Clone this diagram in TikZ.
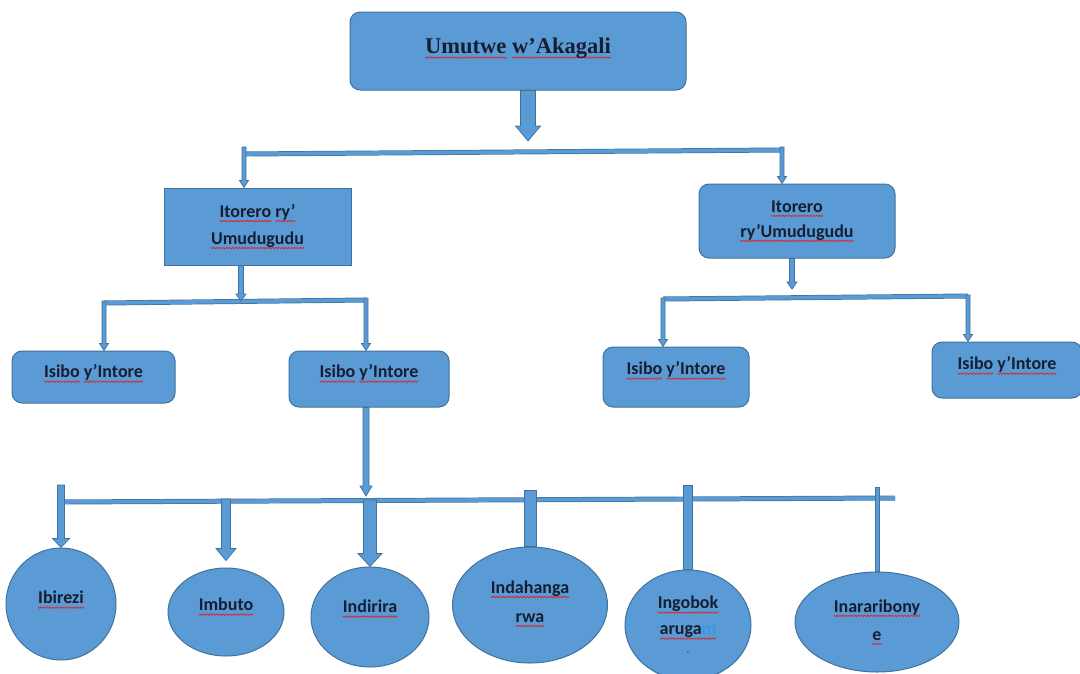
\documentclass[tikz,border=0pt]{standalone}
\usepackage{fontspec}
\usetikzlibrary{shapes.geometric,calc}
\newfontfamily\carlito{Carlito}
\newfontfamily\libserif{Liberation Serif}
\definecolor{fillc}{RGB}{91,155,213}
\definecolor{edge}{RGB}{65,113,156}
\definecolor{txt}{RGB}{22,30,52}
\definecolor{squig}{RGB}{224,32,32}
\definecolor{mblue}{RGB}{60,150,230}
\definecolor{dotgray}{RGB}{90,90,110}
% red wavy underline (spell-check marks)
\newsavebox\wavebox
\sbox\wavebox{\tikz[baseline=0pt]{\useasboundingbox (0,0) rectangle (3pt,-1.6pt);
  \draw[squig, line width=0.7pt, line join=round] (0,0) -- (1.5pt,-1.6pt) -- (3pt,0);}}
\newcommand\sq[1]{\leavevmode\setbox0\hbox{#1}%
  \rlap{\lower3pt\hbox to\wd0{\xleaders\copy\wavebox\hfil}}\box0\relax}
% vertical block arrow: style, from, to, shaft half width, head half width, head length
\newcommand\vblockarrow[6]{\path[#1] let \p1=(#2), \p2=(#3) in
  (\x1-#4pt,\y1) -- (\x1+#4pt,\y1) -- (\x1+#4pt,\y2+#6pt) -- (\x1+#5pt,\y2+#6pt)
  -- (\x1,\y2) -- (\x1-#5pt,\y2+#6pt) -- (\x1-#4pt,\y2+#6pt) -- cycle;}
% vertical stem: style, from, to, half width
\newcommand\vstem[4]{\path[#1] let \p1=(#2), \p2=(#3) in
  (\x1-#4pt,\y1) rectangle (\x1+#4pt,\y2);}
\tikzset{
  conn/.style={fill=fillc, draw=edge, line width=0.7pt, line join=miter},
  barline/.style={draw=edge, line width=0.7pt, double=fillc, double distance=3.6pt},
  boxbase/.style={draw=edge, fill=fillc, line width=1pt, inner sep=0pt, align=center,
    text=txt, font=\carlito\bfseries\fontsize{18}{27}\selectfont},
  sqbox/.style={boxbase, rectangle},
  rbox/.style={boxbase, rectangle, rounded corners=10pt},
  ell/.style={boxbase, ellipse},
  tup/.style={text height=14pt, text depth=#1},
}
\begin{document}
\begin{tikzpicture}[x=1pt,y=-1pt]
\useasboundingbox (0,0) rectangle (1080,673);
\fill[white] (0,0) rectangle (1080,673);

% boxes
\node[rbox, minimum width=336pt, minimum height=78pt,
  font=\libserif\bfseries\fontsize{22.5}{26}\selectfont, text height=17pt, text depth=11.5pt]
  (top) at (518,51) {\sq{Umutwe} \sq{w’Akagali}};
\node[sqbox, minimum width=187pt, minimum height=77pt] (it1) at (257.5,226.5)
  {\sq{Itorero} \sq{ry’}\\\sq{Umudugudu}};
\node[rbox, minimum width=196pt, minimum height=74pt,
  font=\carlito\bfseries\fontsize{18}{25}\selectfont] (it2) at (797,221)
  {\sq{Itorero}\\\sq{ry’Umudugudu}};
\node[rbox, minimum width=163pt, minimum height=52pt, tup=12.4pt] (is1) at (93.5,377) {\sq{Isibo} \sq{y’Intore}};
\node[rbox, minimum width=160pt, minimum height=56pt, tup=16.4pt] (is2) at (369,379) {\sq{Isibo} \sq{y’Intore}};
\node[rbox, minimum width=146pt, minimum height=60pt, tup=18.4pt] (is3) at (676,377) {\sq{Isibo} \sq{y’Intore}};
\node[rbox, minimum width=150pt, minimum height=56pt, tup=14.4pt] (is4) at (1007,370) {\sq{Isibo} \sq{y’Intore}};

% ellipses
\node[ell, minimum width=110pt, minimum height=112pt, tup=14.4pt] (c1) at (61,604) {\sq{Ibirezi}};
\node[ell, minimum width=116pt, minimum height=88pt, tup=16.4pt] (c2) at (226,612) {\sq{Imbuto}};
\node[ell, minimum width=118pt, minimum height=100pt, tup=22.4pt] (c3) at (370,617) {\sq{Indirira}};
\node[ell, minimum width=155pt, minimum height=116pt,
  font=\carlito\bfseries\fontsize{18}{29}\selectfont] (c4) at (530,605)
  {\mbox{}\\[-19pt]\sq{Indahanga}\\\sq{rwa}};
\node[ell, minimum width=126pt, minimum height=110pt,
  font=\carlito\bfseries\fontsize{18}{26}\selectfont] (c5) at (688,625)
  {\sq{Ingobok}\\\sq{aruga{\color{mblue}m}}\\[-7pt]{\color{dotgray}\fontsize{12}{12}\selectfont.}};
\node[ell, minimum width=164pt, minimum height=100pt,
  font=\carlito\bfseries\fontsize{18}{28}\selectfont] (c6) at (877,622) {\sq{Inararibony}\\\sq{e}};

% bars
\coordinate (b1l) at (244,154); \coordinate (b1r) at (782,150);
\coordinate (b2l) at (104,303); \coordinate (b2r) at (366,300);
\coordinate (b3l) at (663,299); \coordinate (b3r) at (968,296);
\coordinate (b4l) at (58,502);  \coordinate (b4r) at (895,498);
\draw[barline] (b1l) -- (b1r);
\draw[barline] (b2l) -- (b2r);
\draw[barline] (b3l) -- (b3r);
\draw[barline] (b4l) -- (b4r);

% connectors
\vblockarrow{conn}{$(top.south)+(10,0)$}{$(top.south|-b1r)+(0,-9)$}{7.5}{12.5}{15}
\vblockarrow{conn}{$(b1l)+(0,-7)$}{it1.north}{2}{4.5}{7}
\vblockarrow{conn}{$(b1r)+(0,-3)$}{it2.north}{2}{4.5}{7}

\vblockarrow{conn}{$(it1.south)+(-16.5,0)$}{$(it1.south|-b2l)+(0,-2)$}{2.5}{5}{7}
\vblockarrow{conn}{$(b2l)+(0,-2)$}{is1.north}{2}{4.5}{7}
\vblockarrow{conn}{$(b2r)+(0,-2)$}{is2.north}{2}{4.5}{7}

\vblockarrow{conn}{$(it2.south)+(-5,0)$}{$(it2.south|-b3l)+(0,-10)$}{2.5}{5}{7}
\vblockarrow{conn}{$(b3l)+(0,-1)$}{is3.north}{2}{4.5}{7}
\vblockarrow{conn}{$(b3r)+(0,-1)$}{is4.north}{2}{4.5}{7}

\vblockarrow{conn}{$(is2.south)+(-3,0)$}{$(is2.south|-b4l)+(0,-6)$}{3}{6}{10}

\vblockarrow{conn}{$(c1.north|-b4l)+(0,-17)$}{c1.north}{3.5}{8.5}{9}
\vblockarrow{conn}{$(c2.north|-b4l)+(0,-3)$}{$(c2.north)+(0,-7)$}{4.5}{10}{12}
\vblockarrow{conn}{$(c3.north|-b4l)+(0,-2)$}{c3.north}{6.5}{12}{13}
\vstem{conn}{$(c4.north|-b4l)+(0,-12)$}{c4.north}{6}
\vstem{conn}{$(c5.north|-b4l)+(0,-17)$}{c5.north}{4.5}
\vstem{conn}{$(c6.north|-b4l)+(0,-15)$}{c6.north}{2}
\end{tikzpicture}
\end{document}
